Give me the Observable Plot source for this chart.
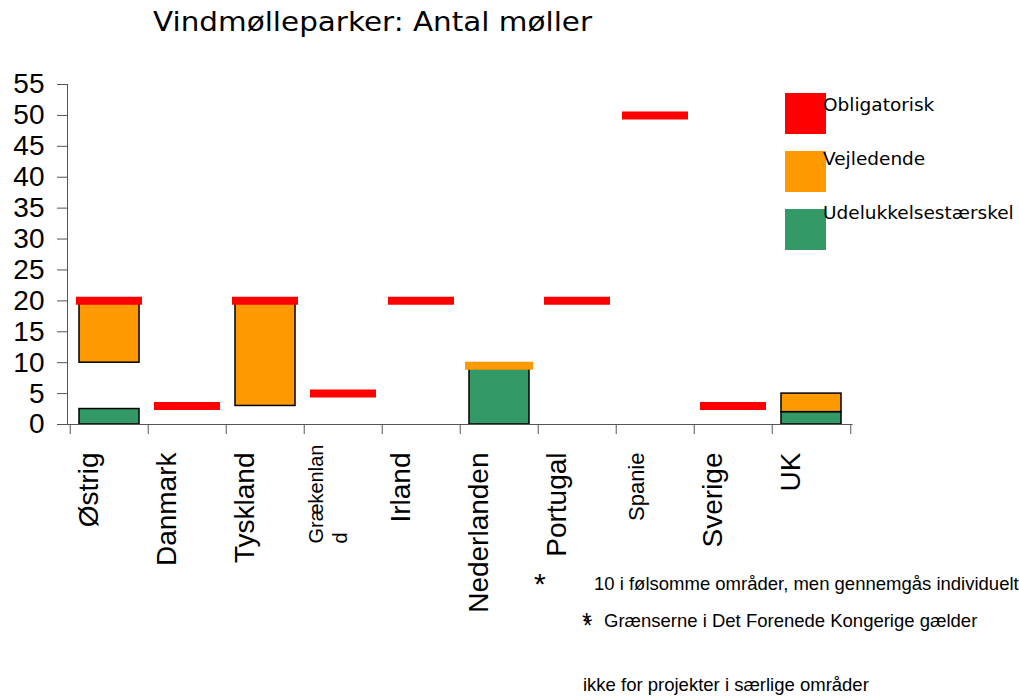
<!DOCTYPE html>
<html>
<head>
<meta charset="utf-8">
<script src="https://cdn.jsdelivr.net/npm/d3@7"></script>
<script src="https://cdn.jsdelivr.net/npm/@observablehq/plot@0.6"></script>
<style>
  body { margin: 0; background: #fff; }
  #wrap { position: relative; width: 1019px; height: 700px; overflow: hidden; background: #fff; }
  #wrap > svg { position: absolute; left: 0; top: 0; }
  .abs { position: absolute; white-space: nowrap; line-height: 1; color: #000; }
  .sans { font-family: "Liberation Sans", Arial, sans-serif; }
  .deja { font-family: "DejaVu Sans", Verdana, sans-serif; }
</style>
</head>
<body>
<div id="wrap"></div>
<script>
// ---------- data ----------
const titleText = "Vindmølleparker: Antal møller";
const countries = ["Østrig", "Danmark", "Tyskland", "Grækenlan\nd", "Irland", "Nederlanden", "Portugal", "Spanie", "Sverige", "UK"];
const obligatorisk     = [20, 3, 20, 5, 20, null, 20, 50, 3, null];
const vejledendeFra    = [10, null, 3, null, null, null, null, null, null, 2];
const vejledendeTil    = [20, null, 20, null, null, null, null, null, null, 5];
const vejledendeNiveau = [null, null, null, null, null, 9.5, null, null, null, null];
const udelukkelse      = [2.5, null, null, null, null, 9, null, null, null, 2];
const yTicks = [0, 5, 10, 15, 20, 25, 30, 35, 40, 45, 50, 55];
const seriesNames = ["Obligatorisk", "Vejledende", "Udelukkelsestærskel"];
const footnote1 = "10 i følsomme områder, men gennemgås individuelt";
const footnote2 = "Grænserne i Det Forenede Kongerige gælder";
const footnote3 = "ikke for projekter i særlige områder";

// ---------- styles ----------
const palette = {"Obligatorisk": "#FF0000", "Vejledende": "#FF9900", "Udelukkelsestærskel": "#339966"};
const smallLabels = ["Grækenlan\nd", "Spanie"];
const axisColor = "#555";

const rows = countries.map((c, i) => ({
  c, obl: obligatorisk[i], vf: vejledendeFra[i], vt: vejledendeTil[i],
  vn: vejledendeNiveau[i], ud: udelukkelse[i]
}));

const W = 1019, H = 700, mL = 67, mR = 166.5, mT = 84, mB = 276;
const bw = (W - mL - mR) / countries.length;

const chart = Plot.plot({
  width: W, height: H,
  marginLeft: mL, marginRight: mR, marginTop: mT, marginBottom: mB,
  x: {domain: countries, padding: 0, axis: null},
  y: {domain: [0, 55], axis: null},
  style: {fontFamily: "'Liberation Sans', Arial, sans-serif", background: "transparent", color: "#000", overflow: "visible"},
  marks: [
    Plot.barY(rows.filter(d => d.ud != null), {x: "c", y1: 0, y2: "ud", fill: palette["Udelukkelsestærskel"], stroke: "#000", strokeWidth: 1.5, insetLeft: 9, insetRight: 9}),
    Plot.barY(rows.filter(d => d.vf != null), {x: "c", y1: "vf", y2: "vt", fill: palette["Vejledende"], stroke: "#000", strokeWidth: 1.5, insetLeft: 9, insetRight: 9}),
    Plot.tickY(rows.filter(d => d.vn != null), {x: "c", y: "vn", stroke: palette["Vejledende"], strokeWidth: 8, insetLeft: 5, insetRight: 5}),
    Plot.tickY(rows.filter(d => d.obl != null), {x: "c", y: "obl", stroke: palette["Obligatorisk"], strokeWidth: 8, insetLeft: 6, insetRight: 6}),
    // axes lines
    Plot.frame({anchor: "left", stroke: axisColor}),
    Plot.ruleY([0], {stroke: axisColor}),
    Plot.axisY({ticks: yTicks, tickSize: 10, tickPadding: 13, fontSize: 28, tickFormat: d => String(d), stroke: axisColor, fill: "#000"}),
    // category boundary ticks
    Plot.ruleX(countries, {x: d => d, y1: 0, y2: 0, dx: -bw / 2, insetBottom: -10, stroke: axisColor}),
    Plot.ruleX(countries.slice(-1), {x: d => d, y1: 0, y2: 0, dx: bw / 2, insetBottom: -10, stroke: axisColor}),
    // category labels
    Plot.text(countries.filter(d => !smallLabels.includes(d)), {x: d => d, text: d => d, frameAnchor: "bottom", rotate: -90, textAnchor: "end", dy: 28, dx: -12, fontSize: 28, fill: "#000"}),
    Plot.text(["Spanie"], {x: d => d, text: d => d, frameAnchor: "bottom", rotate: -90, textAnchor: "end", dy: 28, dx: -12, fontSize: 22, fill: "#000"}),
    Plot.text(["Grækenlan\nd"], {x: d => d, text: d => d, frameAnchor: "bottom", rotate: -90, textAnchor: "start", dy: 119, dx: 3, fontSize: 20, lineHeight: 1.2, fill: "#000"})
  ]
});

const wrap = document.getElementById("wrap");
wrap.appendChild(chart);

function addDiv(text, cls, css) {
  const d = document.createElement("div");
  d.className = "abs " + cls;
  d.textContent = text;
  Object.assign(d.style, css);
  wrap.appendChild(d);
  return d;
}

// title
addDiv(titleText, "deja", {left: "153px", top: "8px", fontSize: "27px", transform: "scaleX(1.09)", transformOrigin: "0 0"});

// legend
seriesNames.forEach((name, i) => {
  const sw = document.createElement("div");
  Object.assign(sw.style, {position: "absolute", left: "785px", top: (93 + 58 * i) + "px", width: "41px", height: "41px", background: palette[name]});
  wrap.appendChild(sw);
});
seriesNames.forEach((name, i) => {
  addDiv(name, "deja", {left: "823px", top: (96 + 54 * i) + "px", fontSize: "18.5px"});
});

// footnotes
addDiv("*", "sans", {left: "534px", top: "569px", fontSize: "30px"});
addDiv(footnote1, "sans", {left: "594px", top: "575px", fontSize: "18.5px"});
addDiv("*", "sans", {left: "582px", top: "610px", fontSize: "24px", textShadow: "1px 4px 0 #000"});
addDiv(footnote2, "sans", {left: "604px", top: "612px", fontSize: "18.5px"});
addDiv(footnote3, "sans", {left: "583px", top: "676px", fontSize: "18.5px"});
</script>
</body>
</html>
